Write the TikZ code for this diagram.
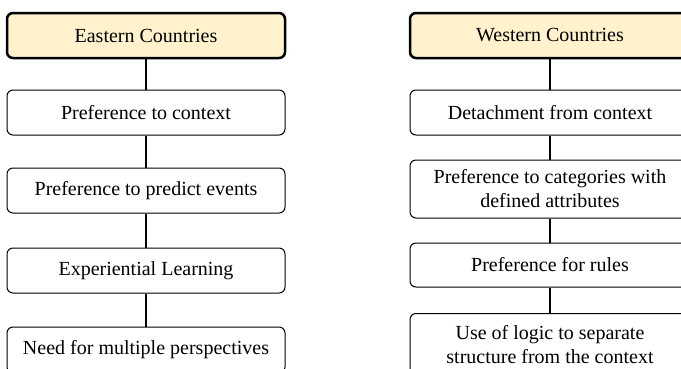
\documentclass[tikz,border=0pt]{standalone}
\usepackage{fontspec}
\setmainfont{Liberation Serif}
\definecolor{headfill}{HTML}{FFF2CC}
\begin{document}
\begin{tikzpicture}[x=1pt,y=-1pt,
  basebox/.style={draw=black, rounded corners=6pt, inner sep=0pt, align=center,
    font=\fontsize{20}{24}\selectfont},
  headbox/.style={basebox, fill=headfill, line width=2.5pt},
  itembox/.style={basebox, fill=white, line width=1pt},
  conn/.style={draw=black, line width=1.6pt}]
\useasboundingbox (0,0) rectangle (681,368);
\clip (0,0) rectangle (681,368);
% Eastern column
\node[headbox, minimum width=278, minimum height=45] (e0) at (146,35.5) {Eastern Countries};
\node[itembox, minimum width=278, minimum height=45] (e1) at (146,112.5) {Preference to context};
\node[itembox, minimum width=278, minimum height=45] (e2) at (146,190.5) {Preference to predict events};
\node[itembox, minimum width=278, minimum height=45] (e3) at (146,270.5) {Experiential Learning};
\node[itembox, minimum width=278, minimum height=46] (e4) at (146,350) {Need for multiple perspectives};
% Western column
\node[headbox, minimum width=280, minimum height=45] (w0) at (550,35.5) {Western Countries};
\node[itembox, minimum width=280, minimum height=45] (w1) at (550,112.5) {Detachment from context};
\node[itembox, minimum width=280, minimum height=58] (w2) at (550,189) {Preference to categories with\\defined attributes};
\node[itembox, minimum width=280, minimum height=44] (w3) at (550,265) {Preference for rules};
\node[itembox, minimum width=280, minimum height=62] (w4) at (550,344.5) {Use of logic to separate\\structure from the context};
% connectors
\draw[conn] (e0) -- (e1);
\draw[conn] (e1) -- (e2);
\draw[conn] (e2) -- (e3);
\draw[conn] (e3) -- (e4);
\draw[conn] (w0) -- (w1);
\draw[conn] (w1) -- (w2);
\draw[conn] (w2) -- (w3);
\draw[conn] (w3) -- (w4);
\end{tikzpicture}
\end{document}
